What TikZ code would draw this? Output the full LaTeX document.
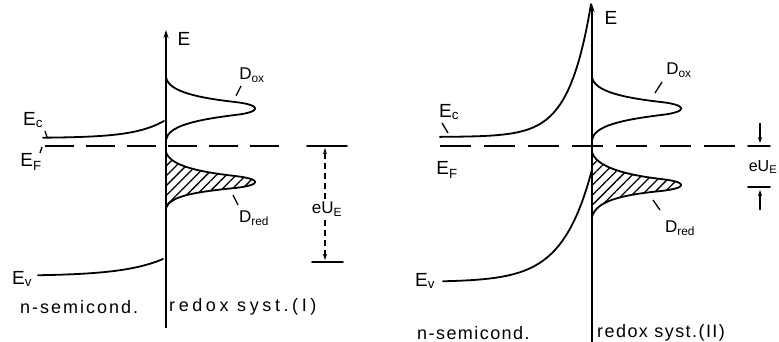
\documentclass[tikz,border=0pt]{standalone}
\usepackage{fontspec}
\setmainfont{Liberation Sans}
\usetikzlibrary{arrows.meta,patterns.meta}
\begin{document}
\begin{tikzpicture}[x=1pt,y=-1pt,
  curve/.style={line width=1.8pt, line join=round, line cap=round},
  axisline/.style={line width=1.8pt},
  fermiL/.style={line width=1.6pt, dash pattern=on 29pt off 12pt},
  fermiR/.style={line width=1.6pt, dash pattern=on 31pt off 13pt},
  lbl/.style={font=\fontsize{19}{21}\selectfont, inner sep=0pt},
  dlbl/.style={font=\fontsize{17}{19}\selectfont, inner sep=0pt},
  captxt/.style={inner sep=0pt, anchor=west},
  tick/.style={line width=1.3pt},
  hatch/.style={pattern={Lines[angle=45,distance=7pt,line width=1.3pt]}},
  dimline/.style={line width=1.2pt, dash pattern=on 6pt off 4pt},
  tip/.style={-{Stealth[length=6pt,width=4pt]}},
]
\useasboundingbox (0,0) rectangle (779,342);

% ---------------- left panel (I) ----------------
\coordinate (LaxB) at (166,328);
\coordinate (LaxT) at (166,30);
\draw[axisline,-{Stealth[length=8pt,width=5pt]}] (LaxB) -- (LaxT);
\node[lbl] (LE) at (184,39) {E};

\draw[curve] plot[domain=43:164,samples=60] (\x,{138-17*exp((\x-164)/30)});
\draw[curve] plot[domain=38:163,samples=60] (\x,{276-17*exp((\x-163)/40)});

\coordinate (LFa) at (45,146);
\coordinate (LFb) at (285,146);
\draw[fermiL] (LFa) -- (LFb);
\coordinate (LBa) at (307,146);
\coordinate (LBb) at (347,146);
\draw[curve] (LBa) -- (LBb);
\coordinate (LCa) at (312,262);
\coordinate (LCb) at (343,262);
\draw[curve] (LCa) -- (LCb);

% D_ox
\draw[curve] (166,77) .. controls (168,92) and (200,98) .. (235,102)
  .. controls (262,105) and (262,112) .. (235,115)
  .. controls (195,120) and (168,126) .. (166,140);
% D_red
\path[hatch] (166,152) .. controls (170,166) and (200,172) .. (235,176)
  .. controls (262,179) and (262,185) .. (235,188)
  .. controls (195,192) and (170,196) .. (166,208) -- cycle;
\draw[curve] (166,152) .. controls (170,166) and (200,172) .. (235,176)
  .. controls (262,179) and (262,185) .. (235,188)
  .. controls (195,192) and (170,196) .. (166,208);

\node[dlbl] (LDox) at (252,75) {D\textsubscript{ox}};
\coordinate (LDoxA) at (236,96);
\coordinate (LDoxB) at (241,86);
\draw[tick] (LDoxA) -- (LDoxB);
\node[dlbl] (LDred) at (254,218) {D\textsubscript{red}};
\coordinate (LDredA) at (233,195);
\coordinate (LDredB) at (238,205);
\draw[tick] (LDredA) -- (LDredB);

\node[lbl] (LEc) at (33,120) {E\textsubscript{c}};
\coordinate (LEcA) at (45,131);
\coordinate (LEcB) at (47,137);
\draw[tick] (LEcA) -- (LEcB);
\node[lbl] (LEF) at (31,162) {E\textsubscript{F}};
\coordinate (LEFA) at (42,147);
\coordinate (LEFB) at (40,153);
\draw[tick] (LEFA) -- (LEFB);
\node[lbl] (LEv) at (22,279) {E\textsubscript{v}};

\node[dlbl] (LeU) at (327,209) {eU\textsubscript{E}};
\coordinate (LeUt) at (325,148);
\coordinate (LeUb) at (325,260);
\draw[dimline,tip] (LeU.north -| LeUt) ++(0,-3) -- (LeUt);
\draw[dimline,tip] (LeU.south -| LeUb) ++(0,4) -- (LeUb);

\node[captxt,font=\fontsize{18}{20}\selectfont\addfontfeature{LetterSpace=11}] (Lsc) at (20,307) {n-semicond.};
\node[captxt,font=\fontsize{18}{20}\selectfont\addfontfeature{LetterSpace=20}] (Lrs) at (169,307) {redox syst.(I)};

% ---------------- right panel (II) ----------------
\coordinate (RaxB) at (592,342);
\coordinate (RaxT) at (592,4);
\draw[axisline,-{Stealth[length=8pt,width=5pt]}] (RaxB) -- (RaxT);
\node[lbl] (RE) at (611,18) {E};

\draw[curve] plot[domain=440:591,samples=100] (\x,{137-127*exp((\x-590)/22)});
\draw[curve] plot[domain=443:592,samples=80] (\x,{282-105*exp((\x-590)/29.5)});

\coordinate (RFa) at (440,146);
\coordinate (RFb) at (736,146);
\draw[fermiR] (RFa) -- (RFb);

% D_ox
\draw[curve] (592,77) .. controls (594,92) and (626,98) .. (661,102)
  .. controls (688,105) and (688,112) .. (661,115)
  .. controls (621,120) and (594,126) .. (592,140);
% D_red
\path[hatch] (592,152) .. controls (596,167) and (626,175) .. (661,179)
  .. controls (688,182) and (688,188) .. (661,191)
  .. controls (621,195) and (596,201) .. (592,217) -- cycle;
\draw[curve] (592,152) .. controls (596,167) and (626,175) .. (661,179)
  .. controls (688,182) and (688,188) .. (661,191)
  .. controls (621,195) and (596,201) .. (592,217);

\node[dlbl] (RDox) at (679,70) {D\textsubscript{ox}};
\coordinate (RDoxA) at (655,93);
\coordinate (RDoxB) at (662,82);
\draw[tick] (RDoxA) -- (RDoxB);
\node[dlbl] (RDred) at (680,228) {D\textsubscript{red}};
\coordinate (RDredA) at (653,200);
\coordinate (RDredB) at (660,210);
\draw[tick] (RDredA) -- (RDredB);

\node[lbl] (REc) at (449,112) {E\textsubscript{c}};
\coordinate (REcA) at (442,123);
\coordinate (REcB) at (448,133);
\draw[tick] (REcA) -- (REcB);
\node[lbl] (REF) at (447,170) {E\textsubscript{F}};
\node[lbl] (REv) at (425,281) {E\textsubscript{v}};

\coordinate (RBa) at (748,146);
\coordinate (RBb) at (770,146);
\draw[curve] (RBa) -- (RBb);
\coordinate (RCa) at (748,187);
\coordinate (RCb) at (770,187);
\draw[curve] (RCa) -- (RCb);
\coordinate (RAt) at (760,123);
\coordinate (RAtt) at (760,143);
\draw[line width=1.2pt,tip] (RAt) -- (RAtt);
\coordinate (RAb) at (760,210);
\coordinate (RAbb) at (760,190);
\draw[line width=1.2pt,tip] (RAb) -- (RAbb);
\node[dlbl,font=\fontsize{16}{18}\selectfont] (ReU) at (763,167) {eU\textsubscript{E}};

\node[captxt,font=\fontsize{18}{20}\selectfont\addfontfeature{LetterSpace=8}] (Rsc) at (417,333) {n-semicond.};
\node[captxt,font=\fontsize{18}{20}\selectfont\addfontfeature{LetterSpace=8}] (Rrs) at (597,333) {redox syst.(II)};
\end{tikzpicture}
\end{document}
